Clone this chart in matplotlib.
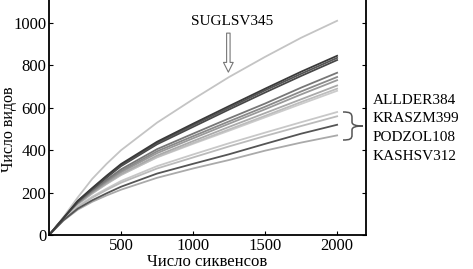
import matplotlib
matplotlib.use('Agg')
import matplotlib.pyplot as plt
from matplotlib.path import Path
from matplotlib.patches import PathPatch

plt.rcParams['font.family'] = ['Liberation Serif', 'DejaVu Serif']

x = [0, 100, 200, 300, 400, 500, 750, 1000, 1250, 1500, 1750, 2000]

# кривые разрежения
sug = [0, 85, 178, 265, 336, 400, 530, 640, 745, 840, 930, 1010]
d1 = [0, 80, 162, 222, 280, 335, 440, 525, 608, 690, 770, 845]
d2 = [0, 80, 160, 219, 276, 330, 434, 518, 600, 682, 760, 835]
d3 = [0, 79, 158, 216, 271, 325, 428, 510, 592, 672, 750, 825]
m1 = [0, 78, 154, 210, 261, 310, 405, 478, 550, 620, 695, 765]
m2 = [0, 78, 152, 206, 255, 302, 395, 466, 536, 605, 677, 745]
m3 = [0, 77, 150, 203, 251, 296, 386, 456, 525, 593, 663, 730]
m4 = [0, 76, 147, 199, 245, 288, 375, 443, 510, 575, 640, 705]
m5 = [0, 75, 145, 196, 241, 283, 368, 434, 498, 562, 627, 690]
m6 = [0, 76, 146, 197, 242, 284, 366, 430, 492, 555, 618, 680]
l1 = [0, 74, 137, 181, 219, 255, 325, 380, 433, 483, 532, 580]
l2 = [0, 73, 133, 176, 213, 247, 314, 366, 418, 467, 514, 560]
l3 = [0, 70, 125, 164, 197, 228, 290, 336, 381, 430, 478, 520]
l4 = [0, 68, 120, 157, 187, 214, 270, 314, 354, 398, 436, 470]

series = [sug, m6, m5, m4, m3, m2, m1, l1, l2, l4, l3, d3, d2, d1]
colors = ['#c4c4c4', '#cccccc', '#bdbdbd', '#aaaaaa', '#9a9a9a', '#8a8a8a',
          '#777777', '#c8c8c8', '#bbbbbb', '#aaaaaa', '#555555',
          '#484848', '#555555', '#3a3a3a']

right_labels = ['ALLDER384', 'KRASZM399', 'PODZOL108', 'KASHSV312']

fig = plt.figure(figsize=(4.73, 2.69), dpi=100)
ax = fig.add_axes([0.1036, 0.126, 0.67, 0.874])

for s, c in zip(series, colors):
    ax.plot(x, s, color=c, linewidth=1.3)

ax.set_xlim(0, 2200)
ax.set_ylim(0, 1108)
ax.set_xticks([500, 1000, 1500, 2000])
ax.set_yticks([0, 200, 400, 600, 800, 1000])
ax.tick_params(direction='in', length=3, labelsize=12, right=True, pad=2)
ax.spines['top'].set_visible(False)
for sp in ['left', 'right', 'bottom']:
    ax.spines[sp].set_linewidth(1.3)

ax.set_xlabel('Число сиквенсов', fontsize=12, labelpad=0)
ax.set_ylabel('Число видов', fontsize=11.5)
ax.yaxis.set_label_coords(-0.1, 0.45)

ax.text(1273, 1005, 'SUGLSV345', fontsize=11, ha='center', va='center')
ax.annotate('', xy=(1245, 755), xytext=(1245, 965),
            arrowprops=dict(arrowstyle='simple,head_width=0.7,head_length=0.7,tail_width=0.25',
                            fc='white', ec='#777777', lw=0.8))

for yy, lab in zip([100.5, 119, 137.5, 156], right_labels):
    fig.text(373 / 473, 1 - yy / 269, lab, fontsize=11, ha='left', va='center')

# фигурная скобка
pts = [(343, 112), (350, 112), (352, 113), (352, 118), (352, 122),
       (352, 125), (356, 126), (363, 126), (356, 126), (352, 127),
       (352, 130), (352, 135), (352, 139), (350, 140), (343, 140)]
codes = [Path.MOVETO, Path.CURVE4, Path.CURVE4, Path.CURVE4, Path.LINETO,
         Path.CURVE4, Path.CURVE4, Path.CURVE4, Path.CURVE4, Path.CURVE4,
         Path.CURVE4, Path.LINETO, Path.CURVE4, Path.CURVE4, Path.CURVE4]
verts = [(px / 473, 1 - py / 269) for px, py in pts]
fig.add_artist(PathPatch(Path(verts, codes), transform=fig.transFigure,
                         fc='none', ec='#555555', lw=1.1))

fig.savefig('out.png', dpi=100)
